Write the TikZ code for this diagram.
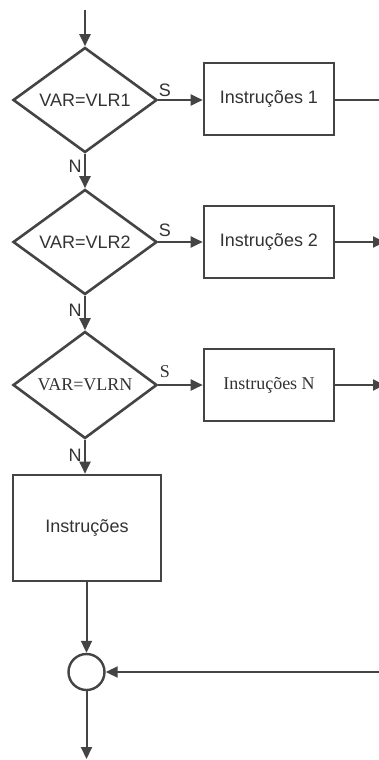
\documentclass[tikz,border=0pt]{standalone}
\usepackage{fontspec}
\setmainfont{Liberation Sans}
\newfontfamily\serifrow{Liberation Serif}
\usetikzlibrary{arrows.meta,shapes.geometric}
\definecolor{ink}{HTML}{444444}
\definecolor{txt}{HTML}{333333}
\begin{document}
\begin{tikzpicture}[x=1pt,y=-1pt,
  conn/.style={draw=ink,line width=2pt},
  arr/.style={conn,-{Triangle[length=12pt,width=11pt]}},
  dec/.style={diamond,draw=ink,line width=2.6pt,minimum width=144pt,minimum height=105pt,inner sep=0pt,text=txt,font=\fontsize{18}{20}\selectfont},
  instr/.style={rectangle,draw=ink,line width=2.6pt,minimum width=130pt,minimum height=72pt,inner sep=0pt,text=txt,font=\fontsize{18}{20}\selectfont},
  lbl/.style={text=txt,inner sep=0pt,font=\fontsize{18}{20}\selectfont}]
\useasboundingbox (0,0) rectangle (379,760);
\fill[white] (0,0) rectangle (379,760);

\node[dec] (d1) at (85,100) {VAR=VLR1};
\node[instr] (b1) at (269,99) {Instruções 1};
\node[dec] (d2) at (85,242) {VAR=VLR2};
\node[instr] (b2) at (269,242) {Instruções 2};
\node[dec,font=\serifrow\fontsize{18}{20}\selectfont] (d3) at (85,385) {VAR=VLRN};
\node[instr,font=\serifrow\fontsize{18}{20}\selectfont] (b3) at (269,385) {Instruções N};
\node[instr,minimum width=148pt,minimum height=106pt] (b4) at (87,528) {Instruções};
\node[circle,draw=ink,line width=2.4pt,minimum size=36pt,inner sep=0pt] (c) at (86.5,672) {};

\node[lbl] (s1) at (165,90) {S};
\node[lbl] (s2) at (165,230) {S};
\node[lbl,font=\serifrow\fontsize{18}{20}\selectfont] (s3) at (165,372) {S};
\node[lbl] (n1) at (75,166) {N};
\node[lbl] (n2) at (75,310) {N};
\node[lbl] (n3) at (75,455) {N};

\coordinate (top) at (85,10);
\coordinate (r1) at (381,100);
\coordinate (r2) at (385,242);
\coordinate (r3) at (385,385);
\coordinate (rc) at (381,672);
\coordinate (bot) at (86.5,759);

\draw[arr] (top) -- (d1.north);
\draw[arr] (d1.east) -- (d1.east -| b1.west);
\draw[conn] (d1.east -| b1.east) -- (r1);
\draw[arr] (d1.south) -- (d2.north);
\draw[arr] (d2.east) -- (b2.west);
\draw[arr] (b2.east) -- (r2);
\draw[arr] (d2.south) -- (d3.north);
\draw[arr] (d3.east) -- (b3.west);
\draw[arr] (b3.east) -- (r3);
\draw[arr] (d3.south) -- (b4.north -| d3.south);
\draw[arr] (b4.south -| c.north) -- (c.north);
\draw[arr] (rc) -- (c.east);
\draw[arr] (c.south) -- (bot);
\end{tikzpicture}
\end{document}
